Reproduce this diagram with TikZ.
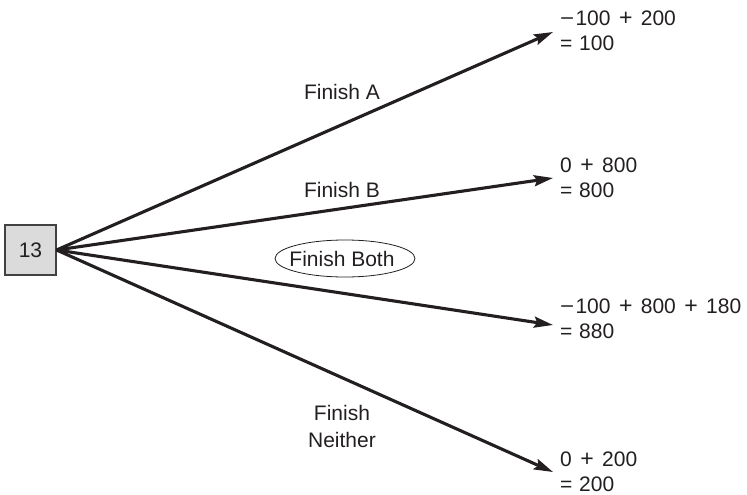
\documentclass[tikz,border=0pt]{standalone}
\usepackage{fontspec}
\setmainfont{Liberation Sans}
\usetikzlibrary{arrows.meta,shapes.geometric}
\newcommand\pp{\hspace{0.4em}\scalebox{1.1}{+}\hspace{0.4em}}
\newcommand\mn{\scalebox{1.15}[1]{−}\hspace{0.06em}}
\newcommand\eq{=\hspace{0.32em}}
\definecolor{ink}{HTML}{231F20}
\begin{document}
\begin{tikzpicture}[x=1pt,y=-1pt,
  every node/.style={text=ink,font=\fontsize{21}{25}\selectfont},
  branch/.style={line width=3.1pt,draw=ink,-{Stealth[length=19pt,width=11pt,inset=3pt]}},
  lbl/.style={inner sep=0pt},
  val/.style={anchor=west,align=left,inner sep=0pt}]
\useasboundingbox (0,0) rectangle (747,495);
\node[draw=ink!85,line width=1.1pt,fill=black!14,minimum width=51pt,minimum height=50pt,inner sep=0pt] (root) at (30.5,250) {13};
\coordinate (t1) at (553,32);
\coordinate (t2) at (553,178);
\coordinate (t3) at (553,325);
\coordinate (t4) at (553,472);
\draw[branch] (root.east) -- (t1);
\draw[branch] (root.east) -- (t2);
\draw[branch] (root.east) -- (t3);
\draw[branch] (root.east) -- (t4);
\node[val] (v1) at (560,31) {\mn100\pp200\\\eq100};
\node[val] (v2) at (560,178) {0\pp800\\\eq800};
\node[val] (v3) at (560,319) {\mn100\pp800\pp180\\\eq880};
\node[val] (v4) at (560,472) {0\pp200\\\eq200};
\node[lbl] (la) at (342,92) {Finish A};
\node[lbl] (lb) at (342,190) {Finish B};
\node[draw=ink,line width=0.8pt,ellipse,minimum width=140pt,minimum height=37pt,inner sep=0pt] (lc) at (345,258.5) {};
\node[lbl] (lct) at (342,259) {Finish Both};
\node[lbl,align=center,font=\fontsize{21}{27}\selectfont] (ld) at (342,426) {Finish\\Neither};
\end{tikzpicture}
\end{document}
